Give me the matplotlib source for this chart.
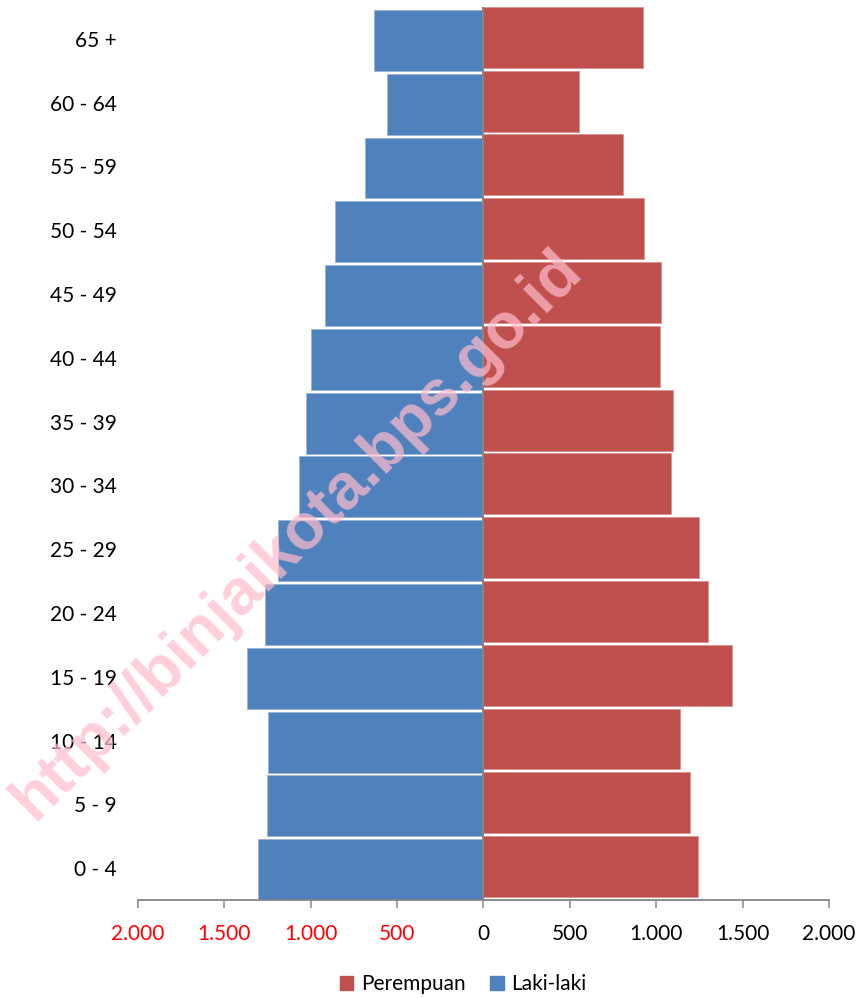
import matplotlib
matplotlib.use('Agg')
import matplotlib.pyplot as plt
from matplotlib.patches import Patch
import numpy as np

plt.rcParams['font.family'] = ['Lato', 'DejaVu Sans']

# age groups, bottom to top
age_groups = ['0 - 4', '5 - 9', '10 - 14', '15 - 19', '20 - 24', '25 - 29', '30 - 34',
              '35 - 39', '40 - 44', '45 - 49', '50 - 54', '55 - 59', '60 - 64', '65 +']
laki_laki = [1304, 1252, 1249, 1370, 1264, 1192, 1067, 1026, 996, 920, 858, 687, 561, 635]
perempuan = [1239, 1196, 1140, 1436, 1302, 1246, 1088, 1098, 1023, 1030, 930, 810, 554, 924]
xticks = [-2000, -1500, -1000, -500, 0, 500, 1000, 1500, 2000]
xtick_labels = ['2.000', '1.500', '1.000', '500', '0', '500', '1.000', '1.500', '2.000']

BLUE = '#4F81BD'
RED = '#C0504D'
AXIS = '#868686'
FS = 15

fig = plt.figure(figsize=(8.64, 9.98), dpi=100)
ax = fig.add_axes([0.1597, 0.0982, 0.7998, 0.8948])

y = np.arange(len(age_groups))
h = 0.955
ax.barh(y - 0.024, -np.array(laki_laki), height=h, color=BLUE, edgecolor='#9db6d8', linewidth=0.7, zorder=2)
ax.barh(y + 0.024, perempuan, height=h, color=RED, edgecolor='#d99593', linewidth=0.7, zorder=2)

ax.axvline(0, color=AXIS, linewidth=1.5, zorder=3)

ax.set_xlim(-2000, 2000)
ax.set_ylim(-0.5, len(age_groups) - 0.5)

ax.set_yticks(y)
ax.set_yticklabels(age_groups, fontsize=FS)
ax.tick_params(axis='y', length=0, pad=15.5)

ax.set_xticks(xticks)
ax.set_xticklabels(xtick_labels, fontsize=FS)
ax.tick_params(axis='x', direction='out', length=6, width=1.1, color=AXIS, pad=11)
for lbl, v in zip(ax.get_xticklabels(), xticks):
    lbl.set_color('#FF0000' if v < 0 else 'black')

for s in ['top', 'right', 'left']:
    ax.spines[s].set_visible(False)
ax.spines['bottom'].set_color(AXIS)
ax.spines['bottom'].set_linewidth(1.3)

handles = [Patch(facecolor=RED, edgecolor=RED), Patch(facecolor=BLUE, edgecolor=BLUE)]
fig.legend(handles, ['Perempuan', 'Laki-laki'], loc='center', bbox_to_anchor=(0.536, 0.014),
           ncol=2, frameon=False, fontsize=FS, handlelength=0.65, handleheight=0.65,
           handletextpad=0.35, columnspacing=1.2, borderpad=0)

# watermark
fig.text(0.344, 0.464, 'http://binjaikota.bps.go.id', rotation=45, ha='center', va='center',
         rotation_mode='anchor', fontsize=46, fontweight='bold', family='Liberation Sans',
         color='#ffbccd', alpha=0.72, zorder=10)

fig.savefig('out.png', dpi=100)
